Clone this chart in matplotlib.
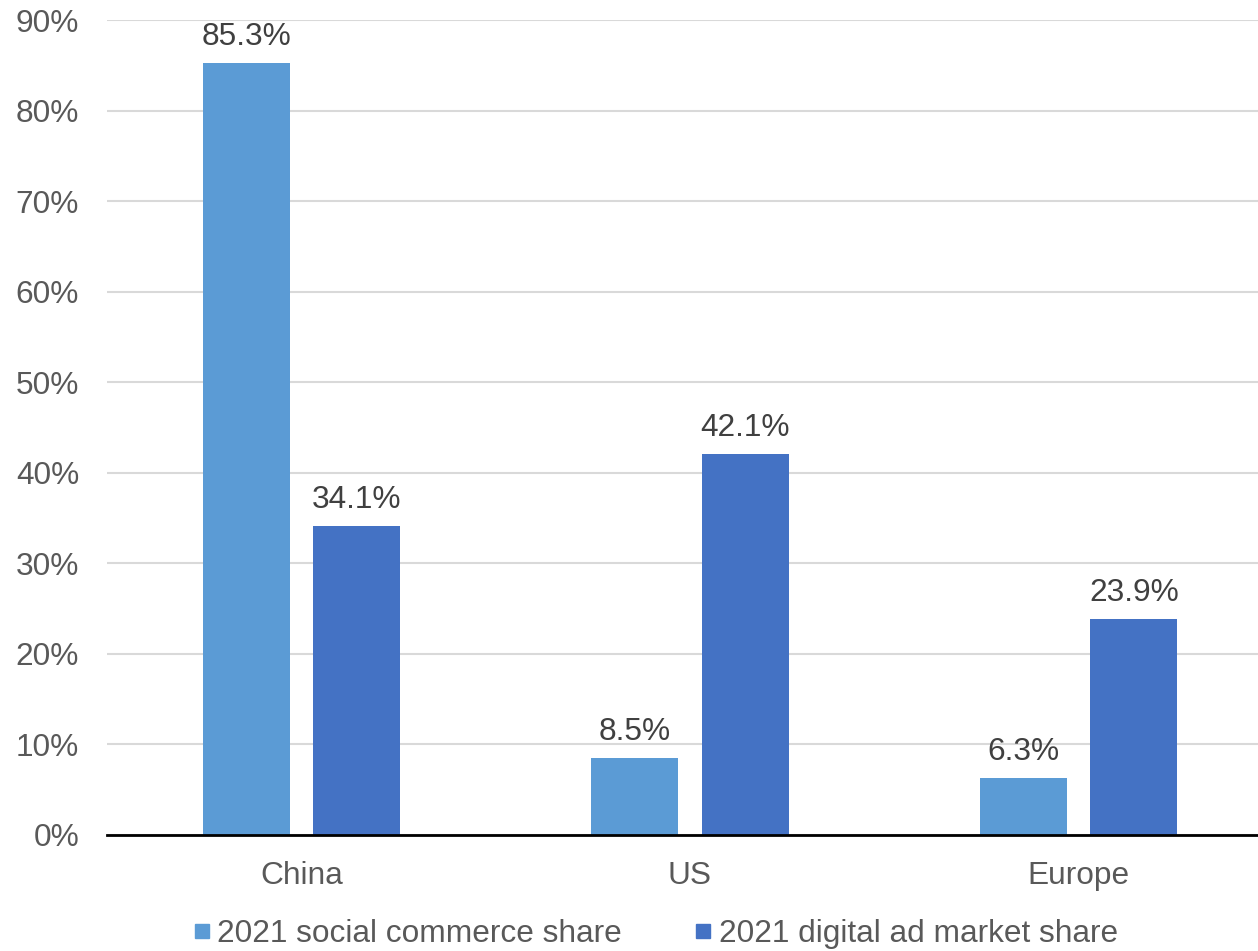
import matplotlib.pyplot as plt
from matplotlib.lines import Line2D
from matplotlib.ticker import FuncFormatter

# Share of social commerce vs. digital ad market, 2021
regions = ["China", "US", "Europe"]
social_commerce = [85.3, 8.5, 6.3]
digital_ad = [34.1, 42.1, 23.9]
series_names = ["2021 social commerce share", "2021 digital ad market share"]

light_blue = "#5B9BD5"
dark_blue = "#4472C4"
text_grey = "#595959"

plt.rcParams['font.family'] = ['Liberation Sans', 'DejaVu Sans']

fig = plt.figure(figsize=(12.58, 9.51), dpi=100)
ax = fig.add_axes([107 / 1258, 116 / 951, 1166 / 1258, 815 / 951])

x = list(range(len(regions)))
width = 0.224
offset = 0.142
ax.bar([i - offset for i in x], social_commerce, width, color=light_blue, zorder=3)
ax.bar([i + offset for i in x], digital_ad, width, color=dark_blue, zorder=3)

# Value labels above each bar
for i in x:
    ax.text(i - offset, social_commerce[i] + 1.2, f"{social_commerce[i]:.1f}%",
            ha="center", va="bottom", fontsize=22.8, color="#404040")
    ax.text(i + offset, digital_ad[i] + 1.2, f"{digital_ad[i]:.1f}%",
            ha="center", va="bottom", fontsize=22.8, color="#404040")

ax.set_xlim(-0.5, 2.5)
ax.set_ylim(0, 90)
ax.set_yticks(range(0, 91, 10))
ax.yaxis.set_major_formatter(FuncFormatter(lambda v, p: f"{v:.0f}%"))
ax.set_xticks(x)
ax.set_xticklabels(regions)

ax.grid(axis="y", color="#d9d9d9", linewidth=1.5, zorder=0)
for side in ["top", "right", "left"]:
    ax.spines[side].set_visible(False)
ax.spines["bottom"].set_color("black")
ax.spines["bottom"].set_linewidth(2)
ax.spines["bottom"].set_zorder(4)

ax.tick_params(axis="y", length=0, pad=20, labelsize=22.8, labelcolor=text_grey)
ax.tick_params(axis="x", length=0, pad=19, labelsize=22.8, labelcolor=text_grey)

handles = [Line2D([], [], marker="s", linestyle="none", markersize=10,
                  markerfacecolor=c, markeredgecolor=c)
           for c in (light_blue, dark_blue)]
leg = fig.legend(handles, series_names, loc="center", bbox_to_anchor=(0.52, 0.018),
                 ncol=2, frameon=False, fontsize=22.8, handletextpad=0.15,
                 columnspacing=2.2, handlelength=0.7)
for t in leg.get_texts():
    t.set_color(text_grey)

fig.savefig("out.png", dpi=100)
